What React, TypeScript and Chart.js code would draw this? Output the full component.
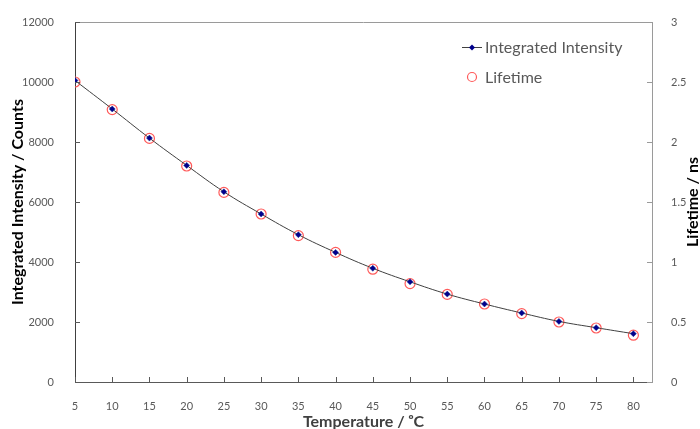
import React, { useEffect, useRef } from "react";
import { Chart, registerables } from "chart.js";

Chart.register(...registerables);

const temperatures = [5, 10, 15, 20, 25, 30, 35, 40, 45, 50, 55, 60, 65, 70, 75, 80];
const intensity = [10050, 9100, 8130, 7220, 6340, 5600, 4910, 4320, 3790, 3340, 2930, 2600, 2300, 2020, 1810, 1610];
const lifetime = [2.5, 2.27, 2.03, 1.8, 1.58, 1.4, 1.22, 1.08, 0.94, 0.82, 0.73, 0.65, 0.57, 0.5, 0.45, 0.39];
const xTickValues = [5, 10, 15, 20, 25, 30, 35, 40, 45, 50, 55, 60, 65, 70, 75, 80];

const seriesLabels = ["Integrated Intensity", "Lifetime"];
const axisTitles = { x: "Temperature / ᵒC", y: "Integrated Intensity / Counts", y1: "Lifetime / ns" };

const FONT = "Lato, 'Open Sans', sans-serif";

const framePlugin = {
  id: "frameTicks",
  afterDraw(chart: any) {
    const { ctx, chartArea, scales } = chart;
    const { left, right, top, bottom } = chartArea;
    ctx.save();
    ctx.lineWidth = 1;
    ctx.strokeStyle = "#9a9a9a";
    ctx.beginPath();
    ctx.moveTo(left, top + 0.5);
    ctx.lineTo(right, top + 0.5);
    ctx.stroke();
    const len = 5;
    ctx.strokeStyle = "#595959";
    ctx.beginPath();
    scales.x.ticks.forEach((t: any) => {
      const px = Math.round(scales.x.getPixelForValue(t.value)) + 0.5;
      ctx.moveTo(px, bottom);
      ctx.lineTo(px, bottom - len);
    });
    scales.y.ticks.forEach((t: any) => {
      const py = Math.round(scales.y.getPixelForValue(t.value)) + 0.5;
      ctx.moveTo(left, py);
      ctx.lineTo(left + len, py);
    });
    ctx.stroke();
    ctx.strokeStyle = "#9a9a9a";
    ctx.beginPath();
    scales.y1.ticks.forEach((t: any) => {
      const py = Math.round(scales.y1.getPixelForValue(t.value)) + 0.5;
      ctx.moveTo(right, py);
      ctx.lineTo(right - len, py);
    });
    ctx.stroke();
    // right axis title, reading bottom-to-top
    ctx.save();
    ctx.translate(693, (top + bottom) / 2);
    ctx.rotate(-Math.PI / 2);
    ctx.font = `bold 16px ${FONT}`;
    ctx.fillStyle = "#000000";
    ctx.textAlign = "center";
    ctx.textBaseline = "middle";
    ctx.fillText(axisTitles.y1, 0, 0);
    ctx.restore();
    ctx.restore();
  },
};

const legendPlugin = {
  id: "customLegend",
  afterDraw(chart: any) {
    const { ctx, chartArea } = chart;
    const ds = chart.data.datasets;
    const x0 = chartArea.left + 397;
    const y0 = chartArea.top + 25;
    ctx.save();
    ctx.font = `16px ${FONT}`;
    ctx.textBaseline = "middle";
    ctx.strokeStyle = "#404040";
    ctx.lineWidth = 1;
    ctx.beginPath();
    ctx.moveTo(x0 - 10, y0 + 0.5);
    ctx.lineTo(x0 + 10, y0 + 0.5);
    ctx.stroke();
    ctx.fillStyle = "#00008b";
    ctx.beginPath();
    ctx.moveTo(x0, y0 - 2.5);
    ctx.lineTo(x0 + 3, y0 + 0.5);
    ctx.lineTo(x0, y0 + 3.5);
    ctx.lineTo(x0 - 3, y0 + 0.5);
    ctx.closePath();
    ctx.fill();
    ctx.fillStyle = "#595959";
    ctx.fillText(ds[0].label, x0 + 13, y0 + 1);
    const y1 = y0 + 30;
    ctx.strokeStyle = "#ff5a5a";
    ctx.lineWidth = 1.2;
    ctx.beginPath();
    ctx.arc(x0, y1, 4.5, 0, Math.PI * 2);
    ctx.stroke();
    ctx.fillText(ds[1].label, x0 + 13, y1 + 1);
    ctx.restore();
  },
};

export default function App() {
  const ref = useRef<HTMLCanvasElement | null>(null);
  useEffect(() => {
    if (!ref.current) return;
    const chart = new Chart(ref.current, {
      type: "line",
      data: {
        datasets: [
          {
            label: seriesLabels[0],
            data: temperatures.map((t, i) => ({ x: t, y: intensity[i] })),
            yAxisID: "y",
            borderColor: "#404040",
            borderWidth: 1,
            tension: 0.4,
            pointStyle: "rectRot",
            pointRadius: 3,
            pointBackgroundColor: "#00008b",
            pointBorderColor: "#1a2a9a",
            pointBorderWidth: 0.5,
            fill: false,
            order: 1,
          },
          {
            label: seriesLabels[1],
            data: temperatures.map((t, i) => ({ x: t, y: lifetime[i] })),
            yAxisID: "y1",
            showLine: false,
            pointStyle: "circle",
            pointRadius: 5,
            pointBackgroundColor: "rgba(0,0,0,0)",
            pointBorderColor: "#ff5a5a",
            pointBorderWidth: 1.2,
            order: 2,
          },
        ],
      },
      options: {
        responsive: false,
        animation: false,
        layout: { padding: { top: 22, left: 0, right: 0, bottom: 0 } },
        plugins: { legend: { display: false }, tooltip: { enabled: false } },
        scales: {
          x: {
            type: "linear",
            min: 5,
            max: 82.5,
            grid: { display: false },
            border: { display: true, color: "#595959", width: 1 },
            afterBuildTicks: (axis: any) => {
              axis.ticks = xTickValues.map((v) => ({ value: v }));
            },
            ticks: {
              autoSkip: false,
              maxRotation: 0,
              padding: 10,
              color: "#595959",
              font: { family: FONT, size: 11 },
              callback: (v: any) => String(v),
            },
            title: {
              display: true,
              text: axisTitles.x,
              color: "#404040",
              font: { family: FONT, size: 16, weight: "bold" },
              padding: { top: 0, bottom: -2 },
            },
            afterFit: (s: any) => {
              s.height = 47;
            },
          },
          y: {
            position: "left",
            min: 0,
            max: 12000,
            grid: { display: false },
            border: { display: true, color: "#404040", width: 1 },
            ticks: {
              stepSize: 2000,
              padding: 13,
              color: "#595959",
              font: { family: FONT, size: 11 },
              callback: (v: any) => String(v),
            },
            title: {
              display: true,
              text: axisTitles.y,
              color: "#000000",
              font: { family: FONT, size: 16, weight: "bold" },
              padding: { top: 8, bottom: 0 },
            },
            afterFit: (s: any) => {
              s.width = 75;
            },
          },
          y1: {
            position: "right",
            min: 0,
            max: 3,
            grid: { display: false },
            border: { display: true, color: "#9a9a9a", width: 1 },
            ticks: {
              stepSize: 0.5,
              padding: 11,
              color: "#595959",
              font: { family: FONT, size: 11 },
              callback: (v: any) => String(v),
            },
            title: { display: false },
            afterFit: (s: any) => {
              s.width = 48;
            },
          },
        },
      },
      plugins: [framePlugin, legendPlugin],
    } as any);
    return () => chart.destroy();
  }, []);
  return (
    <div style={{ position: "absolute", left: 0, top: 0, width: 700, height: 429, background: "#fff" }}>
      <canvas ref={ref} width={700} height={429} style={{ display: "block" }} />
    </div>
  );
}
